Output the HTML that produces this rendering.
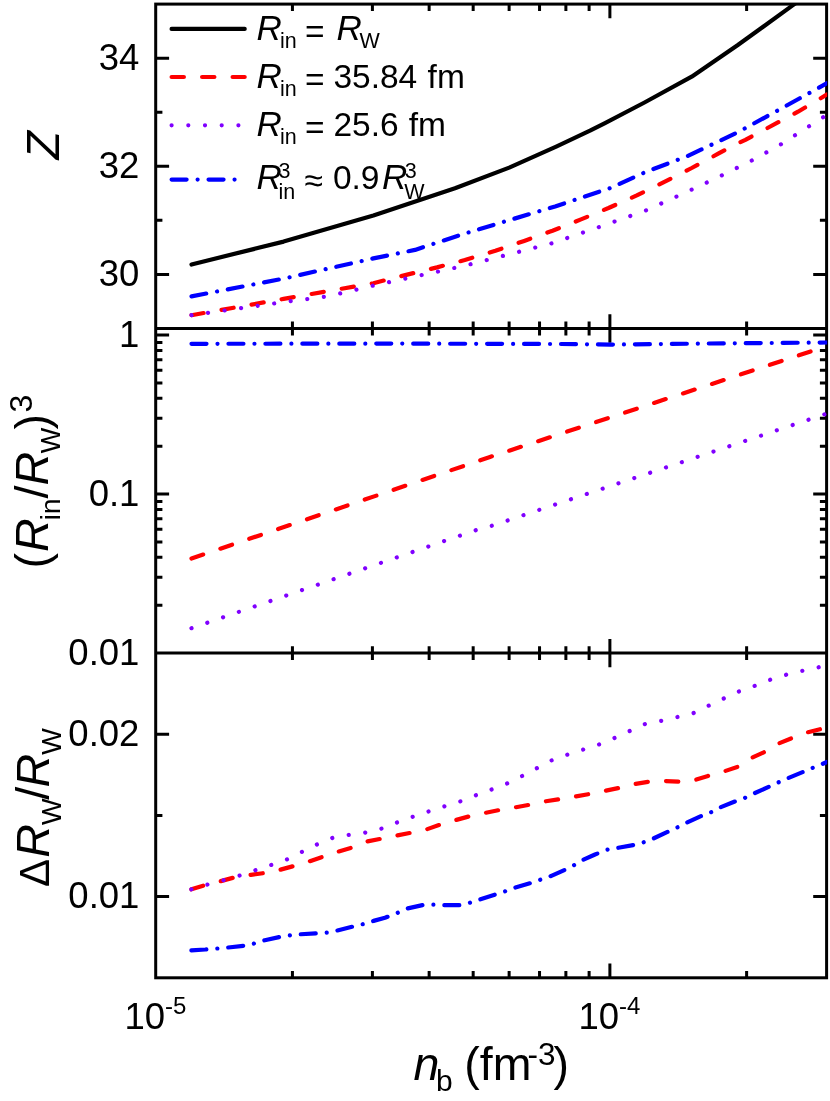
<!DOCTYPE html>
<html lang="en"><head><meta charset="utf-8"><title>Z, (Rin/RW)^3 and dRW/RW versus nb</title>
<style>html,body{margin:0;padding:0;background:#fff}svg{display:block;will-change:transform}text{filter:grayscale(1);font-family:"Liberation Sans",sans-serif;fill:#000}.i{font-style:italic}</style></head><body>
<svg width="830" height="1101" viewBox="0 0 830 1101">
<rect width="830" height="1101" fill="#fff"/>
<defs>
<clipPath id="c1"><rect x="155.1" y="3.5" width="672.1" height="325.6"/></clipPath>
<clipPath id="c2"><rect x="155.1" y="327.9" width="672.1" height="325.8"/></clipPath>
<clipPath id="c3"><rect x="155.1" y="652.5" width="672.1" height="325.9"/></clipPath>
</defs>
<g fill="none" stroke="#000" stroke-width="3" stroke-linecap="butt">
<rect x="155.7" y="4.1" width="670.9" height="973.7"/>
<path d="M155.7 328.5H826.6M155.7 653.1H826.6"/>
<path d="M292.43 4.1V11M292.43 321.6V335.4M292.43 646.2V660M292.43 970.9V977.8M372.41 4.1V11M372.41 321.6V335.4M372.41 646.2V660M372.41 970.9V977.8M429.15 4.1V11M429.15 321.6V335.4M429.15 646.2V660M429.15 970.9V977.8M473.17 4.1V11M473.17 321.6V335.4M473.17 646.2V660M473.17 970.9V977.8M509.13 4.1V11M509.13 321.6V335.4M509.13 646.2V660M509.13 970.9V977.8M539.54 4.1V11M539.54 321.6V335.4M539.54 646.2V660M539.54 970.9V977.8M565.88 4.1V11M565.88 321.6V335.4M565.88 646.2V660M565.88 970.9V977.8M589.11 4.1V11M589.11 321.6V335.4M589.11 646.2V660M589.11 970.9V977.8M609.89 4.1V18.3M609.89 314.3V342.7M609.89 638.9V667.3M609.89 963.6V977.8M746.62 4.1V11M746.62 321.6V335.4M746.62 646.2V660M746.62 970.9V977.8M155.7 274.43H169.1M813.2 274.43H826.6M155.7 166.3H169.1M813.2 166.3H826.6M155.7 58.17H169.1M813.2 58.17H826.6M155.7 220.37H162.4M819.9 220.37H826.6M155.7 112.23H162.4M819.9 112.23H826.6M155.7 335.1H169.1M813.2 335.1H826.6M155.7 446.24H162.4M819.9 446.24H826.6M155.7 418.24H162.4M819.9 418.24H826.6M155.7 398.37H162.4M819.9 398.37H826.6M155.7 382.96H162.4M819.9 382.96H826.6M155.7 370.37H162.4M819.9 370.37H826.6M155.7 359.73H162.4M819.9 359.73H826.6M155.7 350.51H162.4M819.9 350.51H826.6M155.7 342.38H162.4M819.9 342.38H826.6M155.7 494.1H169.1M813.2 494.1H826.6M155.7 605.24H162.4M819.9 605.24H826.6M155.7 577.24H162.4M819.9 577.24H826.6M155.7 557.37H162.4M819.9 557.37H826.6M155.7 541.96H162.4M819.9 541.96H826.6M155.7 529.37H162.4M819.9 529.37H826.6M155.7 518.73H162.4M819.9 518.73H826.6M155.7 509.51H162.4M819.9 509.51H826.6M155.7 501.38H162.4M819.9 501.38H826.6M155.7 896.62H169.1M813.2 896.62H826.6M155.7 734.27H169.1M813.2 734.27H826.6M155.7 815.45H162.4M819.9 815.45H826.6"/>
</g>
<g fill="none" stroke-width="4.2" stroke-linecap="round" stroke-linejoin="round">
<path d="M191.5 264.5L283.6 241.6L373.4 215.6L455 188.3L509.2 167.6L556.2 146.6L590 130.7L605 123.1L644.5 102.5L691.7 76.7L737.5 45.3L792.6 5.4L827 -19" stroke="#000" clip-path="url(#c1)"/>
<path d="M191.5 315.2L283.6 298.9L373.4 283.2L407.2 274.6L437 267.4L464.8 260L495.4 250.8L524.2 240.9L552.5 230.7L581 219.4L608.5 208L636.8 195.4L663.9 182.2L691.7 168L718.2 153.7L736.7 143.8L745.4 139.8L798 111.7L827.1 94.4" stroke="#ff0000" stroke-dasharray="12.3 18.2" clip-path="url(#c1)"/>
<path d="M191.5 315.2L290.8 301.1L307.4 299L324 296.8L340.2 293.4L356.5 289.6L372.8 285.7L464.2 265.8L550.8 243.6L597.8 227.5L646 210.4L691.1 189.9L721.4 175.6L751.4 160.7L780.4 144.7L808.6 126.6L827 114.8" stroke="#8000ff" stroke-dasharray="0.01 16.69" clip-path="url(#c1)"/>
<path d="M191.5 296.4L283.6 278.6L373.4 258.4L415 249.9L464.2 233.7L555.1 206.4L609.9 188.2L646 171.8L687.3 156.2L736.7 132.8L777.1 110.8L827.1 83.2" stroke="#0000ff" stroke-dasharray="15 11 0.01 10.94" clip-path="url(#c1)"/>
<path d="M191.5 558.5L490 457L827 346" stroke="#ff0000" stroke-dasharray="12.3 18.2" clip-path="url(#c2)"/>
<path d="M191.5 628.2L476.9 529.8L492 525.7L826.5 413.7" stroke="#8000ff" stroke-dasharray="0.01 16.69" clip-path="url(#c2)"/>
<path d="M191.5 343.8L400 343.6L560 344L610 344.6L700 343.6L827 342.5" stroke="#0000ff" stroke-dasharray="15 11 0.01 10.94" clip-path="url(#c2)"/>
<path d="M191.4 889.3L205.3 885L220.5 881.2L234.4 877.4L250.9 874.9L263.5 873.1L279.9 869.8L293.9 866L309 861.5L323 856.7L338.1 851.6L352.1 847.6L367.2 841.5L381.2 838.7L396.4 835.6L411.6 832.6L426.8 829.3L440.7 824.5L455.9 820L469.8 816.2L485 812.9L498.9 810.1L515.4 807.3L529.3 804.8L544.5 801.5L559.7 799.2L576.1 796.4L590 793.9L605.6 790.7L619.2 787.9L634.8 784L649.3 781.6L665.2 781L678.8 781.6L694.5 780.1L708 775.9L724 771.4L737.5 766.9L751.7 757.8L763.7 752.4L778.8 743.4L792.3 738L808 732.2L821 728.9L827 727.5" stroke="#ff0000" stroke-dasharray="12.3 18.2" clip-path="url(#c3)"/>
<path d="M191.4 889.3L207.8 884.5L223.5 880.2L239.5 875.6L255.2 870.3L271.1 865L286.3 859.7L301.5 852.1L316.1 844.8L332.6 837.9L349 834.9L365.2 832.6L381.2 828.7L396.4 822.7L412.4 816.9L428.1 811.6L444 806.5L460 801.5L475.6 795.4L491.3 789.6L506.5 783.8L521.7 776.2L536.1 768.6L551.3 760.5L567.2 754.7L583.7 749.4L599.6 744.3L614.6 738L629.7 731L645.4 723.8L661.6 720.8L677.9 716.9L693 713.3L708 706L723.1 698.8L738.7 691.6L754.1 686.1L770.1 679.8L786.3 674.7L802.3 670.8L818.9 667.2L827 665.5" stroke="#8000ff" stroke-dasharray="0.01 16.69" clip-path="url(#c3)"/>
<path d="M191.4 950.3L205.3 949.5L217.4 948.5L228 947.5L244.5 945.7L253.4 943.7L264.8 940.2L280 936.9L290 935.4L300.2 934.3L316.6 933.3L326.8 932.6L336.9 930.6L352 926.8L362.7 924.2L373.6 920.9L385 917.8L397.7 912.8L407.3 908.5L424.3 904.7L433.9 904.7L444.5 905.2L461 905.2L469.8 902.7L480.5 899.2L496.4 894.1L505.8 891.1L515.4 887.5L531.8 882.7L541.2 879.4L550.8 876.1L566 869.3L574.3 865L583.5 859.6L595 854.5L607.1 849.7L617.7 847.9L634.2 844.9L643.9 842.2L653.8 838.3L668.9 831.3L677.9 827.1L686.9 822.6L702 815.7L711.6 812L720.7 807.2L737.2 800.6L745.7 797.6L754.7 793.1L770.4 786.1L779.4 781.9L788.4 778L804.4 771.4L813.4 767.5L822.5 763.9L827 762" stroke="#0000ff" stroke-dasharray="15 11 0.01 10.94" clip-path="url(#c3)"/>
<path d="M171.6 28.9L244.7 28.9" stroke="#000"/>
<path d="M171.6 77L244.7 77" stroke="#ff0000" stroke-dasharray="12.3 18.2"/>
<path d="M171.6 125.3L244.7 125.3" stroke="#8000ff" stroke-dasharray="0.01 16.69"/>
<path d="M171.6 179.6L244.7 179.6" stroke="#0000ff" stroke-dasharray="15 11 0.01 10.94"/>
</g>
<g font-size="36.5" text-anchor="end">
<text x="139.4" y="69.77">34</text>
<text x="139.4" y="177.9">32</text>
<text x="139.4" y="286.03">30</text>
<text x="139.4" y="346.7">1</text>
<text x="139.4" y="505.7">0.1</text>
<text x="139.4" y="664.7">0.01</text>
<text x="139.4" y="745.88">0.02</text>
<text x="139.4" y="908.23">0.01</text>
</g>
<text font-size="36.5" x="124.4" y="1028.9">10<tspan font-size="24" dy="-15.4">-5</tspan></text>
<text font-size="36.5" x="578.4" y="1028.9">10<tspan font-size="24" dy="-15.4">-4</tspan></text>
<text font-size="46.5" y="1079.9"><tspan class="i" x="413.6">n</tspan><tspan font-size="30" x="436" dy="10.8">b</tspan><tspan x="464.3" dy="-10.8">(fm</tspan><tspan font-size="31.5" x="527.4" dy="-15.4">-3</tspan><tspan x="553.4" dy="15.4">)</tspan></text>
<text font-size="46.5" class="i" transform="translate(58.8 159.5) rotate(-90)">Z</text>
<g transform="translate(48.4 568.5) rotate(-90)"><text font-size="46.5" y="0"><tspan x="0">(</tspan><tspan class="i" x="16.4">R</tspan><tspan font-size="28.5" x="47.9" dy="11.8">in</tspan><tspan x="70.1" dy="-11.8">/</tspan><tspan class="i" x="83">R</tspan><tspan font-size="27" x="115.3" dy="11.8">W</tspan><tspan x="139" dy="-11.8">)</tspan><tspan font-size="32" x="156" dy="-16.6">3</tspan></text></g>
<g transform="translate(48.9 887) rotate(-90)"><text font-size="46.5" y="0"><tspan font-size="42" x="0">Δ</tspan><tspan class="i" x="29.2">R</tspan><tspan font-size="28.2" x="62" dy="11.8">W</tspan><tspan x="87.2" dy="-11.8">/</tspan><tspan class="i" x="99.5">R</tspan><tspan font-size="28.2" x="132.2" dy="11.8">W</tspan></text></g>
<g font-size="33.5">
<text y="39.6"><tspan class="i" font-size="35" x="256.6">R</tspan><tspan font-size="21.5" x="280" dy="8">in</tspan><tspan dy="-5" x="305">=</tspan><tspan dy="-3" font-size="0.1"> </tspan><tspan class="i" font-size="35" x="336.4">R</tspan><tspan font-size="21.5" x="359.4" dy="8">W</tspan></text>
<text y="87.6"><tspan class="i" font-size="35" x="256.6">R</tspan><tspan font-size="21.5" x="280" dy="8">in</tspan><tspan dy="-5" x="305">=</tspan><tspan dy="-3" x="333.4">35.84</tspan><tspan x="427.6">fm</tspan></text>
<text y="136.3"><tspan class="i" font-size="35" x="256.6">R</tspan><tspan font-size="21.5" x="280" dy="8">in</tspan><tspan dy="-5" x="305">=</tspan><tspan dy="-3" x="333.4">25.6</tspan><tspan x="408.7">fm</tspan></text>
<text y="188.8"><tspan class="i" font-size="35" x="256.6">R</tspan><tspan font-size="21.5" x="278.6" dy="-10.8">3</tspan><tspan font-size="21.5" x="278.6" dy="20.5">in</tspan><tspan dy="-6.4" x="304.6">≈</tspan><tspan dy="-3.3" x="332.9">0.9</tspan><tspan class="i" font-size="35" x="382">R</tspan><tspan font-size="21.5" x="404.8" dy="-10.8">3</tspan><tspan font-size="21.5" x="404.2" dy="20.5">W</tspan></text>
</g>
</svg></body></html>
